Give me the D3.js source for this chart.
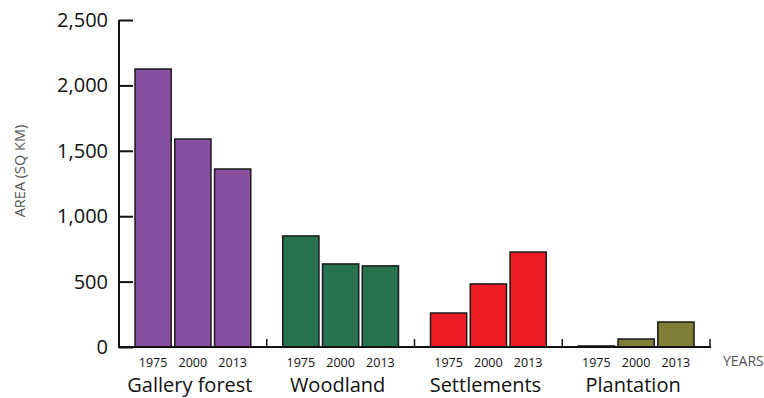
<!DOCTYPE html>
<html><head><meta charset="utf-8">
<script src="https://cdn.jsdelivr.net/npm/d3@7"></script>
<style>body{margin:0;background:#fff}svg{display:block}text{font-family:"Open Sans",sans-serif}</style>
</head><body><svg id="c" width="764" height="398"></svg>
<script>
const categories = ["Gallery forest","Woodland","Settlements","Plantation"];
const years = ["1975","2000","2013"];
const values = {
  "Gallery forest":[2125,1590,1361],
  "Woodland":[849,635,620],
  "Settlements":[260,482,726],
  "Plantation":[8,61,191]
};
const colors = ["#884ea0","#277350","#ee1c25","#7f7f35"];
const yTicks = [0,500,1000,1500,2000,2500];

const svg = d3.select("#c");
const x0 = d3.scaleBand().domain(categories).range([119,710]).paddingInner(0).paddingOuter(0);
const x1 = d3.scaleBand().domain(years).range([16, x0.bandwidth()-16]).paddingInner(0.09).paddingOuter(0);
const y = d3.scaleLinear().domain([0,2500]).range([347,20]);

// bars
categories.forEach((c,i)=>{
  const g = svg.append("g").attr("transform",`translate(${x0(c)},0)`);
  g.selectAll("rect").data(years.map((yr,j)=>({yr,v:values[c][j]}))).join("rect")
    .attr("x",d=>x1(d.yr)).attr("width",x1.bandwidth())
    .attr("y",d=>y(d.v)).attr("height",d=>y(0)-y(d.v))
    .attr("fill",colors[i]).attr("stroke","#1a1a1a").attr("stroke-width",1.5);
  g.selectAll("text.yr").data(years).join("text").attr("class","yr")
    .attr("x",d=>x1(d)+x1.bandwidth()/2).attr("y",367)
    .attr("text-anchor","middle").attr("font-size",12.5).attr("fill","#111").text(d=>d);
  svg.append("text").attr("x",x0(c)+x0.bandwidth()/2-3).attr("y",392)
    .attr("text-anchor","middle").attr("font-size",20).attr("fill","#111").text(c);
});

// y axis
const ya = svg.append("g").attr("transform","translate(119,0)")
  .call(d3.axisRight(y).tickValues(yTicks).tickSize(14).tickFormat(""));
ya.select(".domain").attr("stroke","#111").attr("stroke-width",2).attr("d","M0,20V347");
ya.selectAll(".tick line").attr("stroke","#111").attr("stroke-width",2);
svg.selectAll("text.yl").data(yTicks).join("text").attr("class","yl")
  .attr("x",108).attr("y",d=>y(d)+7).attr("text-anchor","end")
  .attr("font-size",20).attr("fill","#111").text(d=>d3.format(",")(d));

// x axis
const xa = svg.append("g").attr("transform","translate(0,347)");
xa.append("line").attr("x1",118).attr("x2",711).attr("stroke","#111").attr("stroke-width",2);
categories.forEach(c=>{
  const xe = x0(c)+x0.bandwidth();
  xa.append("line").attr("x1",xe).attr("x2",xe).attr("y1",0).attr("y2",-8).attr("stroke","#111").attr("stroke-width",1.5);
});

svg.append("text").attr("x",723).attr("y",366).attr("font-size",14).attr("fill","#555").text("YEARS");
svg.append("text").attr("transform","translate(25,171) rotate(-90)").attr("text-anchor","middle")
  .attr("font-size",14.5).attr("fill","#555").text("AREA (SQ KM)");
</script></body></html>
